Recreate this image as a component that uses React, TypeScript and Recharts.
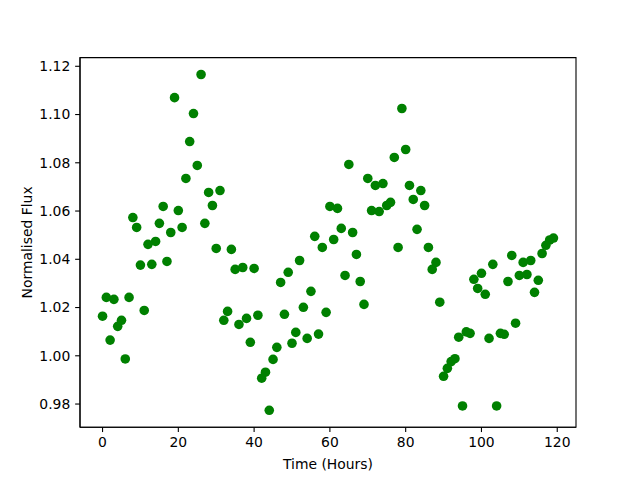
import React from "react";
import {
  ReferenceArea,
  Scatter,
  ScatterChart,
  XAxis,
  YAxis,
} from "recharts";

// Hours since start of observation (one sample per hour).
const hours = [
  0, 1, 2, 3, 4, 5, 6, 7, 8, 9, 10, 11, 12, 13, 14, 15, 16, 17, 18, 19,
  20, 21, 22, 23, 24, 25, 26, 27, 28, 29, 30, 31, 32, 33, 34, 35, 36, 37, 38, 39,
  40, 41, 42, 43, 44, 45, 46, 47, 48, 49, 50, 51, 52, 53, 54, 55, 56, 57, 58, 59,
  60, 61, 62, 63, 64, 65, 66, 67, 68, 69, 70, 71, 72, 73, 74, 75, 76, 77, 78, 79,
  80, 81, 82, 83, 84, 85, 86, 87, 88, 89, 90, 91, 92, 93, 94, 95, 96, 97, 98, 99,
  100, 101, 102, 103, 104, 105, 106, 107, 108, 109, 110, 111, 112, 113, 114, 115, 116, 117, 118, 119,
];

// Normalised flux.
const flux = [
  1.0164, 1.0242, 1.0065, 1.0234, 1.0122, 1.0147, 0.9987, 1.0242, 1.0573, 1.0532,
  1.0376, 1.0188, 1.0462, 1.0379, 1.0474, 1.0549, 1.0619, 1.0391, 1.0511, 1.107,
  1.0602, 1.0532, 1.0735, 1.0888, 1.1004, 1.0789, 1.1166, 1.0549, 1.0677, 1.0623,
  1.0445, 1.0685, 1.0147, 1.0184, 1.0441, 1.0358, 1.013, 1.0366, 1.0155, 1.0056,
  1.0362, 1.0168, 0.9907, 0.9932, 0.9774, 0.9985, 1.0035, 1.0304, 1.0172, 1.0346,
  1.0052, 1.0097, 1.0395, 1.0201, 1.0072, 1.0267, 1.0495, 1.009, 1.0449, 1.018,
  1.0619, 1.0482, 1.0611, 1.0528, 1.0333, 1.0793, 1.0511, 1.042, 1.0308, 1.0213,
  1.0735, 1.0602, 1.0706, 1.0598, 1.0714, 1.0623, 1.0636, 1.0822, 1.0449, 1.1025,
  1.0855, 1.0706, 1.0648, 1.0524, 1.0685, 1.0623, 1.0449, 1.0358, 1.0387, 1.0222,
  0.9915, 0.9948, 0.9976, 0.9988, 1.0077, 0.9792, 1.0099, 1.0093, 1.0317, 1.0279,
  1.0342, 1.0255, 1.0072, 1.0379, 0.9792, 1.0093, 1.0089, 1.0308, 1.0416, 1.0135,
  1.0333, 1.0387, 1.0337, 1.0395, 1.0263, 1.0313, 1.0424, 1.0458, 1.048, 1.0488,
];

const xTicks = [0, 20, 40, 60, 80, 100, 120];
const yTicks = [0.98, 1.0, 1.02, 1.04, 1.06, 1.08, 1.1, 1.12];

// matplotlib-style 5% padding around the data range
const X_DOMAIN: [number, number] = [-5.95, 124.95];
const Y_DOMAIN: [number, number] = [0.9704, 1.1236];

const FONT = "'DejaVu Sans', sans-serif";
const FONT_SIZE = 13.9;
const TICK = 4.86;

const points = hours.map((h, i) => ({ hour: h, flux: flux[i] }));

function Dot(props: any) {
  const { cx, cy } = props;
  if (cx == null || cy == null) return null;
  return <circle cx={cx} cy={cy} r={4.8} fill="#008000" />;
}

export default function App() {
  return (
    <div
      style={{
        position: "absolute",
        left: 0,
        top: 0,
        width: 640,
        height: 480,
        background: "#fff",
        fontFamily: FONT,
      }}
    >
      <ScatterChart
        width={640}
        height={480}
        margin={{ top: 57.6, right: 64, bottom: 0, left: 0 }}
      >
        <XAxis
          type="number"
          dataKey="hour"
          domain={X_DOMAIN}
          allowDataOverflow
          ticks={xTicks}
          height={52.8}
          tickSize={TICK}
          tickMargin={TICK}
          axisLine={{ stroke: "#000", strokeWidth: 1.1 }}
          tickLine={{ stroke: "#000", strokeWidth: 1.1 }}
          tick={{ fill: "#000", fontSize: FONT_SIZE, fontFamily: FONT }}
          label={{
            content: ({ viewBox }: any) => (
              <text
                x={viewBox.x + viewBox.width / 2}
                y={464}
                textAnchor="middle"
                dominantBaseline="central"
                fill="#000"
                fontSize={FONT_SIZE}
                fontFamily={FONT}
              >
                Time (Hours)
              </text>
            ),
          }}
        />
        <YAxis
          type="number"
          dataKey="flux"
          domain={Y_DOMAIN}
          allowDataOverflow
          ticks={yTicks}
          width={80}
          tickSize={TICK}
          tickMargin={TICK}
          tickFormatter={(v: number) => v.toFixed(2)}
          axisLine={{ stroke: "#000", strokeWidth: 1.1 }}
          tickLine={{ stroke: "#000", strokeWidth: 1.1 }}
          tick={{ fill: "#000", fontSize: FONT_SIZE, fontFamily: FONT }}
          label={{
            content: ({ viewBox }: any) => {
              const cy = viewBox.y + viewBox.height / 2;
              return (
                <text
                  x={27}
                  y={cy}
                  transform={`rotate(-90 27 ${cy})`}
                  textAnchor="middle"
                  dominantBaseline="central"
                  fill="#000"
                  fontSize={FONT_SIZE}
                  fontFamily={FONT}
                >
                  Normalised Flux
                </text>
              );
            },
          }}
        />
        <Scatter data={points} shape={Dot} isAnimationActive={false} />
        <ReferenceArea
          x1={X_DOMAIN[0]}
          x2={X_DOMAIN[1]}
          y1={Y_DOMAIN[0]}
          y2={Y_DOMAIN[1]}
          fill="none"
          stroke="#000"
          strokeWidth={1.1}
          ifOverflow="visible"
        />
      </ScatterChart>
    </div>
  );
}
